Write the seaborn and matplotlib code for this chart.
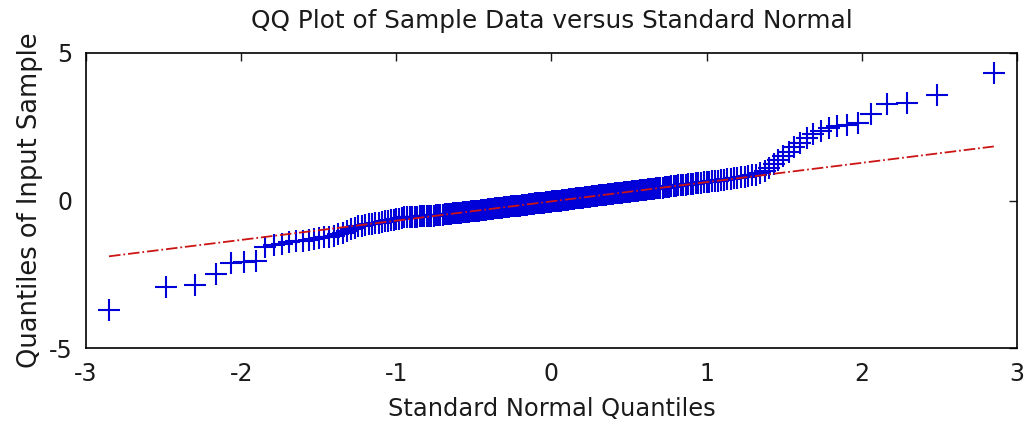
import numpy             as np
import pandas            as pd
import matplotlib
matplotlib.use('Agg')
import matplotlib.pyplot as plt
import seaborn           as sns
from statistics import NormalDist

# Sorted sample values (230 points)
sample_sorted = [
    -3.71, -2.92, -2.86, -2.50, -2.13, -2.07, -2.05, -1.56, -1.50, -1.46,
    -1.42, -1.38, -1.36, -1.33, -1.30, -1.28, -1.25, -1.22, -1.19, -1.15,
    -1.10, -1.03, -0.96, -0.92, -0.88, -0.85, -0.83, -0.81, -0.79, -0.77,
    -0.75, -0.73, -0.71, -0.69, -0.67, -0.65, -0.63, -0.61, -0.59, -0.57,
    -0.56, -0.56, -0.55, -0.55, -0.55, -0.54, -0.54, -0.54, -0.53, -0.53,
    -0.52, -0.51, -0.50, -0.50, -0.49, -0.48, -0.47, -0.47, -0.46, -0.45,
    -0.44, -0.44, -0.43, -0.42, -0.41, -0.40, -0.40, -0.39, -0.38, -0.37,
    -0.36, -0.36, -0.35, -0.34, -0.33, -0.33, -0.32, -0.31, -0.30, -0.29,
    -0.28, -0.28, -0.27, -0.26, -0.25, -0.25, -0.24, -0.23, -0.22, -0.22,
    -0.21, -0.20, -0.20, -0.19, -0.18, -0.17, -0.17, -0.16, -0.15, -0.14,
    -0.14, -0.13, -0.12, -0.12, -0.11, -0.10, -0.10, -0.09, -0.08, -0.08,
    -0.07, -0.06, -0.06, -0.05, -0.04, -0.03, -0.03, -0.02, -0.01,  0.00,
     0.00,  0.01,  0.02,  0.02,  0.03,  0.04,  0.05,  0.05,  0.06,  0.07,
     0.08,  0.08,  0.09,  0.10,  0.11,  0.12,  0.12,  0.13,  0.14,  0.14,
     0.15,  0.16,  0.17,  0.17,  0.18,  0.19,  0.20,  0.21,  0.21,  0.22,
     0.23,  0.24,  0.25,  0.25,  0.26,  0.27,  0.28,  0.29,  0.29,  0.30,
     0.31,  0.32,  0.33,  0.33,  0.34,  0.35,  0.36,  0.37,  0.38,  0.38,
     0.39,  0.40,  0.41,  0.42,  0.43,  0.44,  0.45,  0.46,  0.47,  0.48,
     0.49,  0.50,  0.51,  0.52,  0.53,  0.54,  0.55,  0.56,  0.57,  0.58,
     0.59,  0.60,  0.61,  0.62,  0.64,  0.65,  0.66,  0.67,  0.68,  0.70,
     0.72,  0.73,  0.75,  0.76,  0.78,  0.80,  0.82,  0.85,  0.88,  0.92,
     1.00,  1.10,  1.22,  1.36,  1.50,  1.64,  1.80,  1.95,  2.12,  2.25,
     2.36,  2.45,  2.52,  2.57,  2.64,  2.93,  3.27,  3.30,  3.56,  4.32,
]

x_ticks = [-3, -2, -1, 0, 1, 2, 3]
y_ticks = [-5, 0, 5]

# Theoretical quantiles (plotting positions (i - 0.5) / n, as MATLAB qqplot)
n    = len(sample_sorted)
norm = NormalDist()
df   = pd.DataFrame({'theoretical': [norm.inv_cdf((i + 0.5) / n) for i in range(n)],
                     'sample'     : sample_sorted})

# Reference line through the first and third quartiles
q1, q3   = np.percentile(df['sample'], [25, 75], method = 'hazen')
z1, z3   = norm.inv_cdf(0.25), norm.inv_cdf(0.75)
slope    = (q3 - q1) / (z3 - z1)
line_df  = pd.DataFrame({'x': [df['theoretical'].min(), df['theoretical'].max()]})
line_df['y'] = q1 + slope * (line_df['x'] - z1)

sns.set_style('white')
plt.rcParams['font.family']        = ['DejaVu Sans']
plt.rcParams['axes.unicode_minus'] = False
plt.rcParams['text.color']         = '#1a1a1a'
plt.rcParams['axes.labelcolor']    = '#1a1a1a'

fig = plt.figure(figsize = (10.24, 4.23), dpi = 100)
ax  = fig.add_axes([0.084, 0.177, 0.909, 0.698])

sns.lineplot(data = line_df, x = 'x', y = 'y', ax = ax,
             color = '#cc1414', linestyle = '-.', linewidth = 1.3)
sns.scatterplot(data = df, x = 'theoretical', y = 'sample', ax = ax,
                marker = '+', color = '#0000d8', s = 230, linewidth = 1.5)

ax.set_xlim(-3, 3)
ax.set_ylim(-5, 5)
ax.set_xticks(x_ticks)
ax.set_yticks(y_ticks)
ax.tick_params(direction = 'in', top = True, right = True, length = 6,
               width = 1, labelsize = 17, colors = '#1a1a1a', pad = 10)

for spine in ax.spines.values():
    spine.set_visible(True)
    spine.set_color('black')
    spine.set_linewidth(1.2)

ax.set_title('QQ Plot of Sample Data versus Standard Normal', fontsize = 17.8, pad = 18)
ax.set_xlabel('Standard Normal Quantiles', fontsize = 17.4, labelpad = 8)
ax.set_ylabel('Quantiles of Input Sample', fontsize = 18.5, labelpad = 4)

plt.savefig('out.png', dpi = 100)
